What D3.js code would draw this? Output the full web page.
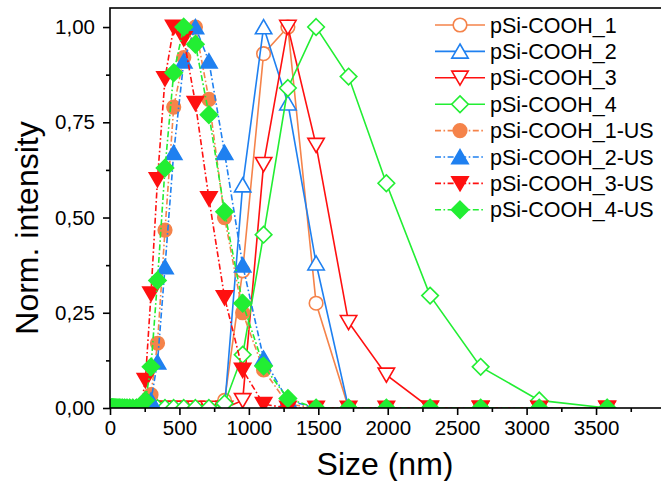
<!DOCTYPE html>
<html lang="en">
<head>
<meta charset="utf-8">
<title>Norm. intensity vs size</title>
<style>
  body {margin: 0; background: #fff;}
  svg  {display: block;}
  svg text {font-family: "Liberation Sans", Arial, sans-serif; fill: #000;}
  .axis line {stroke: #000; stroke-width: 1.6;}
  .axis text {font-size: 20.5px;}
  .legend text {font-size: 21.5px;}
</style>
</head>
<body>

<svg id="chart" width="661" height="481"></svg>

<script src="https://d3js.org/d3.v7.min.js"></script>
<script>
// DLS size bins (nm)
const sizes = [10.10, 11.70, 13.54, 15.69, 18.17, 21.04, 24.36, 28.21, 32.67, 37.84, 43.82, 50.75,
               58.77, 68.06, 78.82, 91.28, 105.7, 122.4, 141.8, 164.2, 190.1, 220.2, 255.0,
               295.3, 342.0, 396.1, 458.7, 531.2, 615.1, 712.4, 825.0, 955.4, 1106, 1281, 1484,
               1718, 1990, 2305, 2669, 3091, 3580];

const names = ["pSi-COOH_1", "pSi-COOH_2", "pSi-COOH_3", "pSi-COOH_4",
               "pSi-COOH_1-US", "pSi-COOH_2-US", "pSi-COOH_3-US", "pSi-COOH_4-US"];

const cooh1 = [0,0,0,0,0,0,0,0,0,0,0,0,0,0,0,0,0,0,0,0,0,0,0,
               0,0,0,0,0,0,0,0.02,0.36,0.93,1.00,0.275,0,0,0,0,0,0];
const cooh2 = [0,0,0,0,0,0,0,0,0,0,0,0,0,0,0,0,0,0,0,0,0,0,0,
               0,0,0,0,0,0,0,0,0.585,1.00,0.80,0.38,0,0,0,0,0,0];
const cooh3 = [0,0,0,0,0,0,0,0,0,0,0,0,0,0,0,0,0,0,0,0,0,0,0,
               0,0,0,0,0,0,0,0,0.02,0.64,1.00,0.69,0.225,0.087,0,0,0,0];
const cooh4 = [0,0,0,0,0,0,0,0,0,0,0,0,0,0,0,0,0,0,0,0,0,0,0,
               0,0,0,0,0,0,0,0.012,0.14,0.455,0.84,1.00,0.87,0.59,0.295,0.108,0.02,0];
const cooh1us = [0,0,0,0,0,0,0,0,0,0,0,0,0,0,0,0,0,0,0,0,0,0,0,
                 0.035,0.17,0.467,0.79,0.92,1.00,0.81,0.50,0.25,0.10,0.01,0,0,0,0,0,0,0];
const cooh2us = [0,0,0,0,0,0,0,0,0,0,0,0,0,0,0,0,0,0,0,0,0,0,0,
                 0.02,0.12,0.37,0.67,0.91,1.00,0.91,0.67,0.375,0.13,0.02,0,0,0,0,0,0,0];
const cooh3us = [0,0,0,0,0,0,0,0,0,0,0,0,0,0,0,0,0,0,0,0,0,0,0.073,
                 0.30,0.60,0.865,1.00,0.97,0.80,0.55,0.29,0.10,0.01,0,0,0,0,0,0,0,0];
const cooh4us = [0,0,0,0,0,0,0,0,0,0,0,0,0,0,0,0,0,0,0,0,0,0,0.02,
                 0.108,0.335,0.63,0.88,1.00,0.955,0.77,0.515,0.275,0.11,0.025,0,0,0,0,0,0,0];

const xMajor = [0, 500, 1000, 1500, 2000, 2500, 3000, 3500];
const xMinor = [250, 750, 1250, 1750, 2250, 2750, 3250, 3750];
const yMajor = [0, 0.25, 0.5, 0.75, 1.0];
const yMinor = [0.125, 0.375, 0.625, 0.875];

// marker shapes (size = half width)
const diamond = {draw(ctx, s) { ctx.moveTo(0, -s); ctx.lineTo(s, 0); ctx.lineTo(0, s); ctx.lineTo(-s, 0); ctx.closePath(); }};
const triUp   = {draw(ctx, s) { ctx.moveTo(0, -s * 0.9); ctx.lineTo(s, s * 0.82); ctx.lineTo(-s, s * 0.82); ctx.closePath(); }};
const triDown = {draw(ctx, s) { ctx.moveTo(0, s * 0.9); ctx.lineTo(s, -s * 0.82); ctx.lineTo(-s, -s * 0.82); ctx.closePath(); }};
const circle  = {draw(ctx, s) { ctx.moveTo(s, 0); ctx.arc(0, 0, s, 0, 2 * Math.PI); }};

const orange = "#f5834a", blue = "#1f80f0", red = "#ff1010", green = "#22ee33";
const styles = [
  {values: cooh1,   color: orange, shape: circle,  r: 6.8, filled: false},
  {values: cooh2,   color: blue,   shape: triUp,   r: 8.2, filled: false},
  {values: cooh3,   color: red,    shape: triDown, r: 8.2, filled: false},
  {values: cooh4,   color: green,  shape: diamond, r: 8.3, filled: false},
  {values: cooh1us, color: orange, shape: circle,  r: 6.8, filled: true},
  {values: cooh2us, color: blue,   shape: triUp,   r: 8.2, filled: true},
  {values: cooh3us, color: red,    shape: triDown, r: 8.2, filled: true},
  {values: cooh4us, color: green,  shape: diamond, r: 8.6, filled: true}
];

const svg = d3.select("#chart");
const L = 110, R = 662, T = 8, B = 408;

const x = d3.scaleLinear().domain([0, 3975]).range([L, R]);
const y = d3.scaleLinear().domain([0, 1.05]).range([B, T]);
const comma = d => d3.format(".2f")(d).replace(".", ",");

svg.append("clipPath").attr("id", "plot")
   .append("rect").attr("x", L).attr("y", T).attr("width", R - L).attr("height", B - T);

const plot = svg.append("g").attr("clip-path", "url(#plot)");
const line = d3.line().x((d, i) => x(sizes[i])).y(d => y(d));

// each series: line, then its markers
styles.forEach(s => {
  const g = plot.append("g");
  g.append("path")
   .attr("d", line(s.values))
   .attr("fill", "none")
   .attr("stroke", s.color)
   .attr("stroke-width", 1.6)
   .attr("stroke-dasharray", s.filled ? "6,2.5,1.6,2.5" : null);
  g.selectAll("path.m")
   .data(s.values)
   .join("path")
     .attr("class", "m")
     .attr("transform", (d, i) => `translate(${x(sizes[i])},${y(d)})`)
     .attr("d", d3.symbol().type(s.shape).size(s.r))
     .attr("fill", s.filled ? s.color : "#fff")
     .attr("stroke", s.color)
     .attr("stroke-width", 1.6);
});

// frame
svg.append("rect")
   .attr("x", L).attr("y", T).attr("width", R - L).attr("height", B - T)
   .attr("fill", "none").attr("stroke", "#000").attr("stroke-width", 1.6);

// axes
svg.append("g").attr("class", "axis").attr("transform", `translate(0,${B})`)
   .call(d3.axisBottom(x).tickValues(xMajor).tickSize(7).tickSizeOuter(0).tickPadding(5).tickFormat(d3.format("d")));
svg.append("g").attr("class", "axis").attr("transform", `translate(0,${B})`)
   .call(d3.axisBottom(x).tickValues(xMinor).tickSize(4).tickFormat(""));
svg.append("g").attr("class", "axis").attr("transform", `translate(${L},0)`)
   .call(d3.axisLeft(y).tickValues(yMajor).tickSize(7).tickSizeOuter(0).tickPadding(8).tickFormat(comma));
svg.append("g").attr("class", "axis").attr("transform", `translate(${L},0)`)
   .call(d3.axisLeft(y).tickValues(yMinor).tickSize(4).tickFormat(""));
svg.selectAll(".axis .domain").remove();
svg.selectAll(".axis").attr("font-family", null).attr("font-size", null);

// axis titles
svg.append("text")
   .attr("x", (L + 660) / 2).attr("y", 475)
   .attr("text-anchor", "middle")
   .style("font-size", "32px")
   .text("Size (nm)");
svg.append("text")
   .attr("transform", "translate(38,228) rotate(-90)")
   .attr("text-anchor", "middle")
   .style("font-size", "32px")
   .text("Norm. intensity");

// legend
const legend = svg.append("g").attr("class", "legend");
styles.forEach((s, i) => {
  const ly = 25 + i * 26.4;
  const g = legend.append("g").attr("transform", `translate(0,${ly})`);
  g.append("line")
   .attr("x1", 435).attr("x2", 485)
   .attr("stroke", s.color).attr("stroke-width", 1.6)
   .attr("stroke-dasharray", s.filled ? "6,2.5,1.6,2.5" : null);
  g.append("path")
   .attr("transform", "translate(460,0)")
   .attr("d", d3.symbol().type(s.shape).size(s.r))
   .attr("fill", s.filled ? s.color : "#fff")
   .attr("stroke", s.color).attr("stroke-width", 1.6);
  g.append("text").attr("x", 490).attr("y", 7.5).text(names[i]);
});
</script>
</body>
</html>
